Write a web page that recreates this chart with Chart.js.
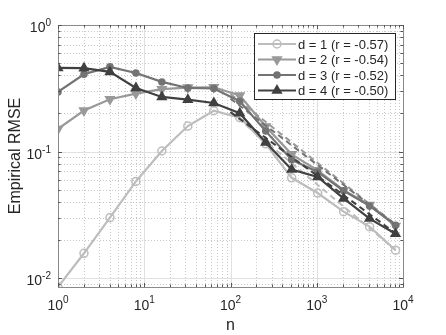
<!DOCTYPE html>
<html>
<head>
<meta charset="utf-8">
<script src="https://cdn.jsdelivr.net/npm/chart.js@4"></script>
<style>
    body { margin: 0; background: #fff; }
    #wrap { width: 446px; height: 335px; }
</style>
</head>
<body>
<div id="wrap"><canvas id="rmseChart" width="446" height="335"></canvas></div>
<script>
// Données
const sampleSizes = [1, 2, 4, 8, 16, 32, 64, 128, 256, 512, 1024, 2048, 4096, 8192];
const rmseD1 = [0.0085, 0.0157, 0.030, 0.058, 0.101, 0.159, 0.210, 0.185, 0.115, 0.062, 0.047, 0.0335, 0.0255, 0.0166];
const rmseD2 = [0.151, 0.211, 0.259, 0.287, 0.311, 0.320, 0.322, 0.277, 0.158, 0.095, 0.071, 0.0495, 0.0378, 0.0258];
const rmseD3 = [0.296, 0.408, 0.467, 0.418, 0.355, 0.318, 0.315, 0.250, 0.145, 0.086, 0.069, 0.049, 0.0372, 0.0262];
const rmseD4 = [0.458, 0.456, 0.426, 0.318, 0.270, 0.257, 0.242, 0.201, 0.118, 0.072, 0.063, 0.0426, 0.0295, 0.0224];

// Droites de régression (extrémités)
const fitRange = [100, 8192];
const fitD1 = [0.205, 0.0167];
const fitD2 = [0.285, 0.0265];
const fitD3 = [0.262, 0.0265];
const fitD4 = [0.205, 0.0226];

const seriesLabels = ['d = 1 (r = -0.57)', 'd = 2 (r = -0.54)', 'd = 3 (r = -0.52)', 'd = 4 (r = -0.50)'];
const seriesColors = ['#bdbdbd', '#999999', '#737373', '#404040'];

const xTicks = [1, 10, 100, 1000, 10000];
const xTickExp = ['0', '1', '2', '3', '4'];
const yTicks = [1, 0.1, 0.01];
const yTickExp = ['0', '-1', '-2'];

const FONT = '"Liberation Sans", Arial, sans-serif';
const TEXT = '#262626';

function toPoints(xs, ys) {
    return xs.map((x, i) => ({ x: x, y: ys[i] }));
}

const markers = [
    { style: 'circle', radius: 4, fill: '#ffffff00', rot: 0 },
    { style: 'triangle', radius: 5, fill: seriesColors[1], rot: 180 },
    { style: 'circle', radius: 3, fill: seriesColors[2], rot: 0 },
    { style: 'triangle', radius: 5, fill: seriesColors[3], rot: 0 }
];

const allSeries = [rmseD1, rmseD2, rmseD3, rmseD4];
const allFits = [fitD1, fitD2, fitD3, fitD4];

const datasets = [];
allSeries.forEach((vals, i) => {
    datasets.push({
        label: seriesLabels[i],
        data: toPoints(sampleSizes, vals),
        borderColor: seriesColors[i],
        backgroundColor: markers[i].fill,
        borderWidth: 2.2,
        pointStyle: markers[i].style,
        pointRadius: markers[i].radius,
        pointRotation: markers[i].rot,
        pointBorderWidth: 1.5,
        pointBackgroundColor: markers[i].fill,
        pointBorderColor: seriesColors[i],
        order: 3 - i
    });
    datasets.push({
        label: 'fit ' + (i + 1),
        data: toPoints(fitRange, allFits[i]),
        borderColor: seriesColors[i],
        borderWidth: 2,
        borderDash: [6, 4],
        pointRadius: 0,
        order: 3 - i + 0.5
    });
});

function minorValues(min, max) {
    const out = [];
    for (let e = Math.floor(Math.log10(min)); e <= Math.ceil(Math.log10(max)); e++) {
        for (let k = 1; k <= 9; k++) {
            const v = k * Math.pow(10, e);
            if (v >= min * 0.999 && v <= max * 1.001) out.push({ v: v, major: k === 1 });
        }
    }
    return out;
}

// Grille, axes et légende façon MATLAB
const matlabAxes = {
    id: 'matlabAxes',
    beforeDatasetsDraw(chart) {
        const { ctx, chartArea: a, scales } = chart;
        const xs = scales.x, ys = scales.y;
        ctx.save();
        ctx.lineWidth = 1;
        // grille mineure pointillée
        ctx.strokeStyle = '#c8c8c8';
        ctx.setLineDash([1, 2]);
        minorValues(xs.min, xs.max).forEach(t => {
            if (t.major) return;
            const px = Math.round(xs.getPixelForValue(t.v)) + 0.5;
            ctx.beginPath(); ctx.moveTo(px, a.top); ctx.lineTo(px, a.bottom); ctx.stroke();
        });
        minorValues(ys.min, ys.max).forEach(t => {
            if (t.major) return;
            const py = Math.round(ys.getPixelForValue(t.v)) + 0.5;
            ctx.beginPath(); ctx.moveTo(a.left, py); ctx.lineTo(a.right, py); ctx.stroke();
        });
        // grille majeure
        ctx.setLineDash([]);
        ctx.strokeStyle = '#e0e0e0';
        xTicks.forEach(v => {
            const px = Math.round(xs.getPixelForValue(v)) + 0.5;
            ctx.beginPath(); ctx.moveTo(px, a.top); ctx.lineTo(px, a.bottom); ctx.stroke();
        });
        yTicks.forEach(v => {
            const py = Math.round(ys.getPixelForValue(v)) + 0.5;
            ctx.beginPath(); ctx.moveTo(a.left, py); ctx.lineTo(a.right, py); ctx.stroke();
        });
        ctx.restore();
    },
    afterDatasetsDraw(chart) {
        const { ctx, chartArea: a, scales } = chart;
        const xs = scales.x, ys = scales.y;
        ctx.save();
        // cadre
        ctx.strokeStyle = '#8a8a8a';
        ctx.lineWidth = 1;
        ctx.strokeRect(Math.round(a.left) + 0.5, Math.round(a.top) + 0.5,
            Math.round(a.right - a.left), Math.round(a.bottom - a.top));
        // graduations vers l'intérieur
        ctx.strokeStyle = '#555';
        minorValues(xs.min, xs.max).forEach(t => {
            const px = Math.round(xs.getPixelForValue(t.v)) + 0.5;
            const len = t.major ? 4 : 2.5;
            ctx.beginPath();
            ctx.moveTo(px, a.bottom); ctx.lineTo(px, a.bottom - len);
            ctx.moveTo(px, a.top); ctx.lineTo(px, a.top + len);
            ctx.stroke();
        });
        minorValues(ys.min, ys.max).forEach(t => {
            const py = Math.round(ys.getPixelForValue(t.v)) + 0.5;
            const len = t.major ? 4 : 2.5;
            ctx.beginPath();
            ctx.moveTo(a.left, py); ctx.lineTo(a.left + len, py);
            ctx.moveTo(a.right, py); ctx.lineTo(a.right - len, py);
            ctx.stroke();
        });

        // étiquettes des graduations
        ctx.fillStyle = TEXT;
        ctx.textBaseline = 'alphabetic';
        ctx.textAlign = 'left';
        xTicks.forEach((v, i) => {
            const px = xs.getPixelForValue(v);
            ctx.font = '14px ' + FONT;
            const wBase = ctx.measureText('10').width;
            ctx.font = '10px ' + FONT;
            const wExp = ctx.measureText(xTickExp[i]).width;
            const x0 = px - (wBase + wExp) / 2;
            ctx.font = '14px ' + FONT;
            ctx.fillText('10', x0, a.bottom + 23);
            ctx.font = '10px ' + FONT;
            ctx.fillText(xTickExp[i], x0 + wBase, a.bottom + 16);
        });
        yTicks.forEach((v, i) => {
            const py = ys.getPixelForValue(v);
            ctx.font = '10px ' + FONT;
            const wExp = ctx.measureText(yTickExp[i]).width;
            ctx.font = '14px ' + FONT;
            const wBase = ctx.measureText('10').width;
            const xEnd = a.left - 7;
            ctx.fillText('10', xEnd - wExp - wBase, py + 7);
            ctx.font = '10px ' + FONT;
            ctx.fillText(yTickExp[i], xEnd - wExp, py + 1);
        });

        // titres des axes
        ctx.font = '16px ' + FONT;
        ctx.textAlign = 'center';
        ctx.fillText('n', (a.left + a.right) / 2, a.bottom + 43);
        ctx.save();
        ctx.translate(20, (a.top + a.bottom) / 2);
        ctx.rotate(-Math.PI / 2);
        ctx.fillText('Empirical RMSE', 0, 0);
        ctx.restore();

        // légende
        const lx = 254, ly = 33, lw = 141, lh = 66;
        ctx.fillStyle = '#fff';
        ctx.fillRect(lx, ly, lw, lh);
        ctx.strokeStyle = '#262626';
        ctx.lineWidth = 1;
        ctx.strokeRect(lx + 0.5, ly + 0.5, lw, lh);
        const rows = [44, 59.5, 75, 90.5];
        seriesLabels.forEach((label, i) => {
            const y = rows[i];
            ctx.strokeStyle = seriesColors[i];
            ctx.lineWidth = 2.2;
            ctx.beginPath(); ctx.moveTo(258, y); ctx.lineTo(296, y); ctx.stroke();
            ctx.lineWidth = 1.5;
            ctx.fillStyle = markers[i].fill;
            ctx.strokeStyle = seriesColors[i];
            Chart.helpers.drawPoint(ctx, {
                pointStyle: markers[i].style,
                radius: markers[i].radius,
                rotation: markers[i].rot,
                borderWidth: 1.5
            }, 277, y);
            ctx.fillStyle = TEXT;
            ctx.font = '13px ' + FONT;
            ctx.textAlign = 'left';
            ctx.fillText(label, 298, y + 4.5);
        });
        ctx.restore();
    }
};

new Chart(document.getElementById('rmseChart').getContext('2d'), {
    type: 'line',
    data: { datasets: datasets },
    options: {
        responsive: false,
        animation: false,
        layout: { padding: { left: 58, right: 43, top: 25, bottom: 48 } },
        plugins: { legend: { display: false }, tooltip: { enabled: false } },
        scales: {
            x: { type: 'logarithmic', min: 1, max: 10000, display: false },
            y: { type: 'logarithmic', min: 0.0085, max: 1, display: false }
        }
    },
    plugins: [matlabAxes]
});
</script>
</body>
</html>
